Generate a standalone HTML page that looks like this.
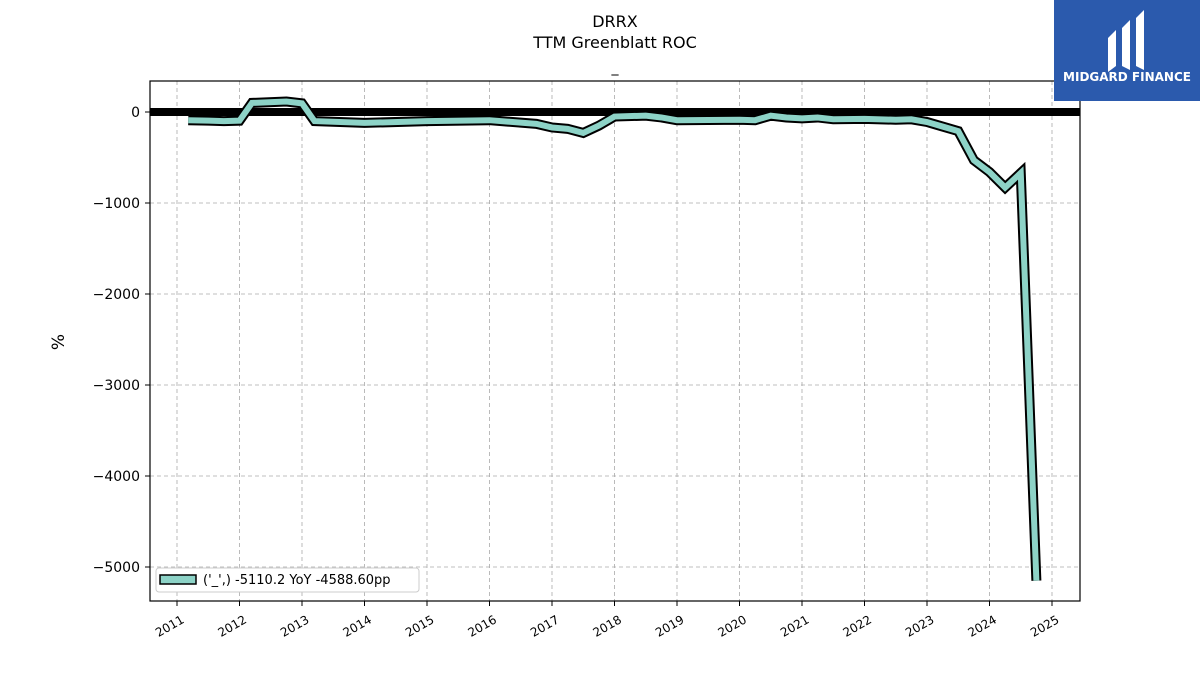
<!DOCTYPE html>
<html><head><meta charset="utf-8"><style>
body{margin:0;background:#fff;font-family:"Liberation Sans","DejaVu Sans",sans-serif}
</style></head><body>
<svg id="chart" width="1200" height="675" xmlns="http://www.w3.org/2000/svg" font-family="DejaVu Sans, Liberation Sans, sans-serif">
<rect width="1200" height="675" fill="#fff"/>
<text x="615" y="27" text-anchor="middle" font-size="16">DRRX</text>
<text x="615" y="48" text-anchor="middle" font-size="16">TTM Greenblatt ROC</text>
<text x="615" y="72" text-anchor="middle" font-size="14">_</text>
<text transform="translate(64,342) rotate(-90)" text-anchor="middle" font-size="17">%</text>
<g id="grid"></g>
<g id="ticks"></g>
<g id="series"></g>
<rect x="150" y="81" width="930" height="520" fill="none" stroke="#000" stroke-width="1.2"/>
<g>
<rect x="156" y="568" width="263" height="24" rx="3" fill="#fff" stroke="#ccc"/>
<rect x="160" y="575" width="36" height="9" fill="#8dd3c7" stroke="#000" stroke-width="1.5"/>
<text x="203" y="584" font-size="13">('_',) -5110.2 YoY -4588.60pp</text>
</g>
<g>
<rect x="1054" y="0" width="146" height="101" fill="#2b5aad"/>
<path d="M1108 38 L1116 30 L1116 66 L1108 72 Z M1122 28 L1130 20 L1130 70 L1122 66 Z M1136 18 L1144 10 L1144 70 L1136 66 Z" fill="#fff"/>
<text x="1127" y="81" text-anchor="middle" font-size="12" font-weight="bold" fill="#fff">MIDGARD FINANCE</text>
</g>
</svg>
<script>
const dates=[2011.18,2011.5,2011.75,2012.0,2012.2,2012.75,2013.0,2013.2,2014.0,2015.0,2016.0,2016.75,2017.0,2017.25,2017.5,2017.75,2018.0,2018.5,2018.75,2019.0,2020.0,2020.25,2020.5,2020.75,2021.0,2021.25,2021.5,2022.0,2022.5,2022.75,2023.0,2023.25,2023.5,2023.75,2024.0,2024.25,2024.5,2024.75];
const values=[-90,-95,-100,-95,100,115,95,-100,-120,-100,-90,-130,-170,-185,-230,-150,-50,-40,-60,-90,-85,-90,-40,-60,-70,-60,-80,-75,-85,-80,-110,-160,-210,-530,-660,-830,-670,-5150];
const yTicks=[0,-1000,-2000,-3000,-4000,-5000];
const xTicks=[2011,2012,2013,2014,2015,2016,2017,2018,2019,2020,2021,2022,2023,2024,2025];
const NS="http://www.w3.org/2000/svg";
const X=d=>177+(d-2011)*62.5;
const Y=v=>112-v*0.091;
function mk(tag,attrs,parent){const e=document.createElementNS(NS,tag);for(const k in attrs)e.setAttribute(k,attrs[k]);parent.appendChild(e);return e;}
const grid=document.getElementById('grid'),ticks=document.getElementById('ticks'),series=document.getElementById('series');
yTicks.forEach(v=>{
  const l=mk('line',{x1:150,x2:1080,y1:Y(v),y2:Y(v),stroke:'#aaa','stroke-dasharray':'4,3','stroke-width':0.8},grid);
  
  
  mk('line',{x1:145,x2:150,y1:Y(v),y2:Y(v),stroke:'#000'},ticks);
  const t=mk('text',{x:140,y:Y(v)+5,'text-anchor':'end','font-size':14},ticks);
  t.textContent=(v<0?'\u2212'+(-v):v);
  
  
});
xTicks.forEach(d=>{
  const l=mk('line',{x1:X(d),x2:X(d),y1:81,y2:601,stroke:'#aaa','stroke-dasharray':'4,3','stroke-width':0.8},grid);
  
  
  mk('line',{x1:X(d),x2:X(d),y1:601,y2:606,stroke:'#000'},ticks);
  const t=mk('text',{x:X(d)+8,y:622,'text-anchor':'end','font-size':12,transform:`rotate(-30 ${X(d)+8} 622)`},ticks);
  t.textContent=d;
  
  
});
const z=mk('line',{x1:150,x2:1080,y1:Y(0),y2:Y(0),stroke:'#000','stroke-width':8},series);


const pts=dates.map((d,i)=>X(d)+','+Y(values[i])).join(' ');
const o=mk('polyline',{points:pts,fill:'none',stroke:'#000','stroke-width':10,'stroke-linejoin':'miter'},series);


const ln=mk('polyline',{points:pts,fill:'none',stroke:'#8dd3c7','stroke-width':6,'stroke-linejoin':'miter'},series);


</script>
</body></html>
